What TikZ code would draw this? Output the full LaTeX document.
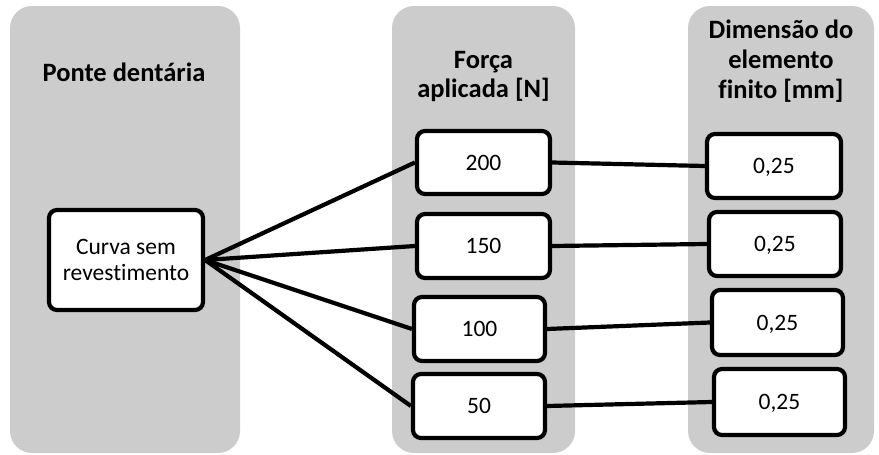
\documentclass[tikz,border=0pt]{standalone}
\usepackage{fontspec}
\setmainfont{Carlito}[Ligatures=NoCommon]
\definecolor{colgray}{RGB}{204,204,204}
\begin{document}
\begin{tikzpicture}[x=1pt,y=-1pt,
  colbox/.style={fill=colgray,draw=none,rounded corners=22pt},
  valbox/.style={draw=black,fill=white,line width=4.2pt,rounded corners=8pt,inner sep=0pt,align=center,font=\fontsize{23.5}{25.5}\selectfont},
  numbox/.style={valbox,text depth=0pt},
  titletext/.style={inner sep=0pt,align=center,font=\bfseries\fontsize{26.5}{30}\selectfont},
  conn/.style={draw=black,line width=4.2pt}]
\useasboundingbox (0,0) rectangle (879,455);
% columns
\fill[colbox] (10,6) rectangle (240,453);
\fill[colbox] (392,6) rectangle (575,453);
\fill[colbox] (688,6) rectangle (874,453);
% titles
\node[titletext,anchor=base] (t1) at (124,81) {Ponte dentária};
\node[titletext,anchor=base] (t2a) at (483.5,68) {Força};
\node[titletext,anchor=base] (t2b) at (483.5,97) {aplicada [N]};
\node[titletext,anchor=base] (t3a) at (781,38) {Dimensão do};
\node[titletext,anchor=base] (t3b) at (781,68) {elemento};
\node[titletext,anchor=base] (t3c) at (781,98) {finito [mm]};
% boxes
\node[valbox,minimum width=154pt,minimum height=100pt] (curva) at (126,260) {Curva sem\\revestimento};
\node[numbox,minimum width=133pt,minimum height=63pt] (m200) at (483.5,162.5) {200};
\node[numbox,minimum width=133pt,minimum height=64pt] (m150) at (483.5,246) {150};
\node[numbox,minimum width=131pt,minimum height=64pt] (m100) at (479.5,329) {100};
\node[numbox,minimum width=132pt,minimum height=64pt] (m50) at (479,406) {50};
\node[numbox,minimum width=134pt,minimum height=64pt] (r1) at (774,166) {0,25};
\node[numbox,minimum width=132pt,minimum height=64pt] (r2) at (775,244) {0,25};
\node[numbox,minimum width=131pt,minimum height=65pt] (r3) at (777.5,322.5) {0,25};
\node[numbox,minimum width=131pt,minimum height=66pt] (r4) at (779.5,402) {0,25};
% connectors
\draw[conn] (curva.east) -- (m200.west);
\draw[conn] (curva.east) -- (m150.west);
\draw[conn] (curva.east) -- (m100.west);
\draw[conn] (curva.east) -- (m50.west);
\draw[conn] (m200.east) -- (r1.west);
\draw[conn] (m150.east) -- (r2.west);
\draw[conn] (m100.east) -- (r3.west);
\draw[conn] (m50.east) -- (r4.west);
\end{tikzpicture}
\end{document}
